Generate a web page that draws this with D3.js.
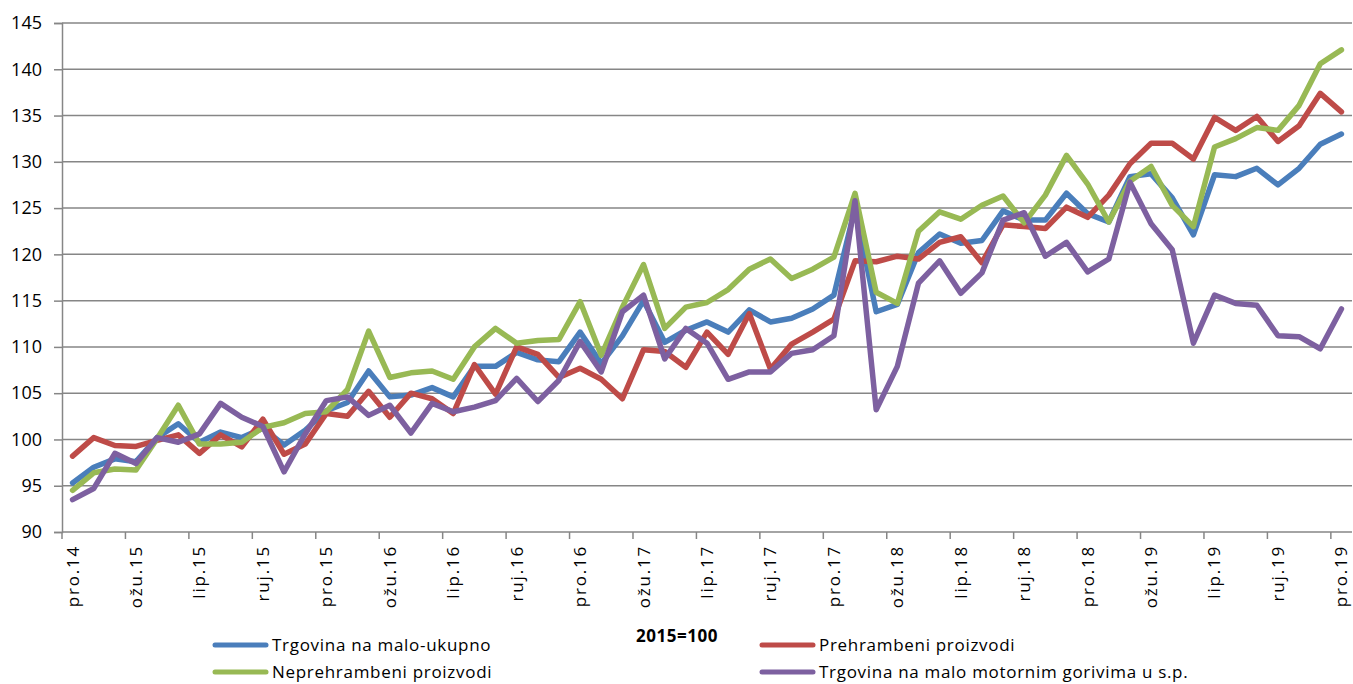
<!DOCTYPE html>
<html>
<head>
<meta charset="utf-8">
<script src="https://cdn.jsdelivr.net/npm/d3@7"></script>
<style>
  body { margin: 0; background: #fff; }
  svg { display: block; font-family: "Open Sans", "Liberation Sans", sans-serif; }
</style>
</head>
<body>
<div id="chart"></div>
<script>
var width = 1353, height = 684;

// month abbreviations (Croatian) used for the category labels
var monthNames = ["sij", "velj", "ožu", "tra", "svi", "lip", "srp", "kol", "ruj", "lis", "stu", "pro"];
var months = [];
for (var k = 0; k < 61; k++) {
  var m = (11 + k) % 12, yr = 14 + Math.floor((11 + k) / 12);
  months.push(monthNames[m] + "." + yr);
}

var ukupno = [95.3, 97.0, 97.9, 97.6, 100.2, 101.7, 99.7, 100.8, 100.2, 101.2, 99.4, 101.0,
  103.1, 104.0, 107.4, 104.6, 104.8, 105.6, 104.6, 107.9, 107.9, 109.4, 108.6, 108.4,
  111.6, 108.2, 111.2, 115.0, 110.5, 111.8, 112.7, 111.6, 114.0, 112.7, 113.1, 114.1,
  115.6, 125.0, 113.8, 114.6, 120.2, 122.2, 121.2, 121.5, 124.7, 123.7, 123.7, 126.6,
  124.4, 123.5, 128.4, 128.7, 126.1, 122.1, 128.6, 128.4, 129.3, 127.5, 129.3, 131.9, 133.0];

var prehrambeni = [98.2, 100.2, 99.35, 99.25, 99.9, 100.5, 98.5, 100.5, 99.2, 102.2, 98.4, 99.5,
  102.8, 102.5, 105.2, 102.4, 105.0, 104.4, 102.8, 108.1, 104.9, 110.0, 109.2, 106.7,
  107.7, 106.5, 104.4, 109.7, 109.5, 107.8, 111.6, 109.2, 113.6, 107.6, 110.3, 111.6,
  113.0, 119.3, 119.2, 119.8, 119.5, 121.3, 121.9, 119.1, 123.2, 123.0, 122.8, 125.1,
  124.0, 126.4, 129.8, 132.0, 132.0, 130.3, 134.8, 133.4, 134.9, 132.2, 133.9, 137.4, 135.4];

var neprehrambeni = [94.5, 96.4, 96.8, 96.7, 100.1, 103.7, 99.5, 99.5, 99.7, 101.3, 101.8, 102.8,
  103.0, 105.4, 111.7, 106.7, 107.2, 107.4, 106.5, 110.0, 112.0, 110.4, 110.7, 110.8,
  114.9, 109.1, 114.3, 118.9, 112.0, 114.3, 114.8, 116.2, 118.4, 119.5, 117.4, 118.4,
  119.7, 126.6, 115.9, 114.7, 122.5, 124.6, 123.8, 125.3, 126.3, 123.4, 126.4, 130.7,
  127.6, 123.5, 127.9, 129.5, 125.3, 123.0, 131.6, 132.5, 133.7, 133.4, 136.1, 140.6, 142.1];

var goriva = [93.5, 94.7, 98.5, 97.4, 100.2, 99.7, 100.6, 103.9, 102.4, 101.4, 96.5, 100.6,
  104.2, 104.6, 102.6, 103.7, 100.7, 103.9, 103.0, 103.5, 104.2, 106.6, 104.1, 106.4,
  110.6, 107.3, 113.8, 115.6, 108.7, 112.0, 110.4, 106.5, 107.3, 107.3, 109.3, 109.7,
  111.2, 125.8, 103.2, 107.9, 116.9, 119.3, 115.8, 118.0, 123.7, 124.5, 119.8, 121.3,
  118.1, 119.5, 127.8, 123.3, 120.5, 110.4, 115.6, 114.7, 114.5, 111.2, 111.1, 109.8, 114.1];

var seriesNames = ["Trgovina na malo-ukupno", "Prehrambeni proizvodi", "Neprehrambeni proizvodi",
  "Trgovina na malo motornim gorivima u s.p."];
var colors = ["#4a7ebb", "#be4b48", "#98b954", "#7d60a0"];
var yTicks = [90, 95, 100, 105, 110, 115, 120, 125, 130, 135, 140, 145];

var series = [ukupno, prehrambeni, neprehrambeni, goriva].map(function (v, i) {
  return { name: seriesNames[i], color: colors[i], values: v };
});

var plotL = 62, plotR = 1352, plotT = 23, plotB = 532;

var x = d3.scaleBand().domain(months).range([plotL, plotR]).padding(0);
var y = d3.scaleLinear().domain([90, 145]).range([plotB, plotT]);

var svg = d3.select("#chart").append("svg")
  .attr("width", width).attr("height", height);

// gridlines + y axis
var yAxis = svg.append("g")
  .attr("transform", "translate(" + plotL + ",0)")
  .call(d3.axisLeft(y).tickValues(yTicks).tickSize(8).tickPadding(12))
yAxis.select(".domain").attr("stroke", "#868686").attr("stroke-width", 1.5);
yAxis.selectAll(".tick line").attr("stroke", "#868686").attr("stroke-width", 1.5);
yAxis.selectAll(".tick text").attr("font-size", 18).attr("fill", "#000")
  .attr("font-family", "'Open Sans', sans-serif");

svg.append("g")
  .selectAll("line")
  .data(yTicks.slice(1))
  .enter()
  .append("line")
  .attr("x1", plotL).attr("x2", plotR)
  .attr("y1", function (d) { return y(d); })
  .attr("y2", function (d) { return y(d); })
  .attr("stroke", "#868686").attr("stroke-width", 1.5);

// x axis: labels every 3rd month, tick marks on category boundaries
var shown = months.filter(function (d, i) { return i % 3 === 0; });
var xAxis = svg.append("g")
  .attr("transform", "translate(0," + plotB + ")")
  .call(d3.axisBottom(x).tickValues(shown).tickSize(0).tickPadding(0));
xAxis.select(".domain").remove();
xAxis.selectAll(".tick text")
  .attr("font-size", 17)
  .attr("fill", "#000")
  .attr("font-family", "'Open Sans', sans-serif")
  .attr("letter-spacing", "1.8px")
  .attr("text-anchor", "end")
  .attr("dy", "0.35em")
  .attr("transform", "translate(0,13) rotate(-90)");

svg.append("line")
  .attr("x1", plotL).attr("x2", plotR)
  .attr("y1", plotB).attr("y2", plotB)
  .attr("stroke", "#868686").attr("stroke-width", 1.5);

svg.append("g")
  .selectAll("line")
  .data(shown)
  .enter()
  .append("line")
  .attr("x1", function (d) { return x(d); })
  .attr("x2", function (d) { return x(d); })
  .attr("y1", plotB).attr("y2", plotB + 7)
  .attr("stroke", "#868686").attr("stroke-width", 1.5);

// lines
var line = d3.line()
  .x(function (d, i) { return x(months[i]) + x.bandwidth() / 2; })
  .y(function (d) { return y(d); });

svg.append("g")
  .selectAll("path")
  .data(series)
  .enter()
  .append("path")
  .attr("d", function (d) { return line(d.values); })
  .attr("fill", "none")
  .attr("stroke", function (d) { return d.color; })
  .attr("stroke-width", 5.5)
  .attr("stroke-linejoin", "round")
  .attr("stroke-linecap", "round");

// note + legend
svg.append("text")
  .attr("x", 677).attr("y", 642)
  .attr("text-anchor", "middle")
  .attr("font-size", 17).attr("font-weight", "bold")
  .attr("letter-spacing", "0.5px")
  .text("2015=100");

var legendPos = [[213, 645], [760, 645], [213, 672], [760, 672]];
var lg = svg.append("g")
  .selectAll("g")
  .data(series)
  .enter()
  .append("g")
  .attr("transform", function (d, i) { return "translate(" + legendPos[i][0] + "," + legendPos[i][1] + ")"; });
lg.append("line")
  .attr("x1", 2).attr("x2", 53)
  .attr("stroke", function (d) { return d.color; })
  .attr("stroke-width", 5)
  .attr("stroke-linecap", "round");
lg.append("text")
  .attr("x", 59).attr("dy", "0.35em")
  .attr("font-size", 17)
  .attr("letter-spacing", "0.7px")
  .text(function (d) { return d.name; });
</script>
</body>
</html>
